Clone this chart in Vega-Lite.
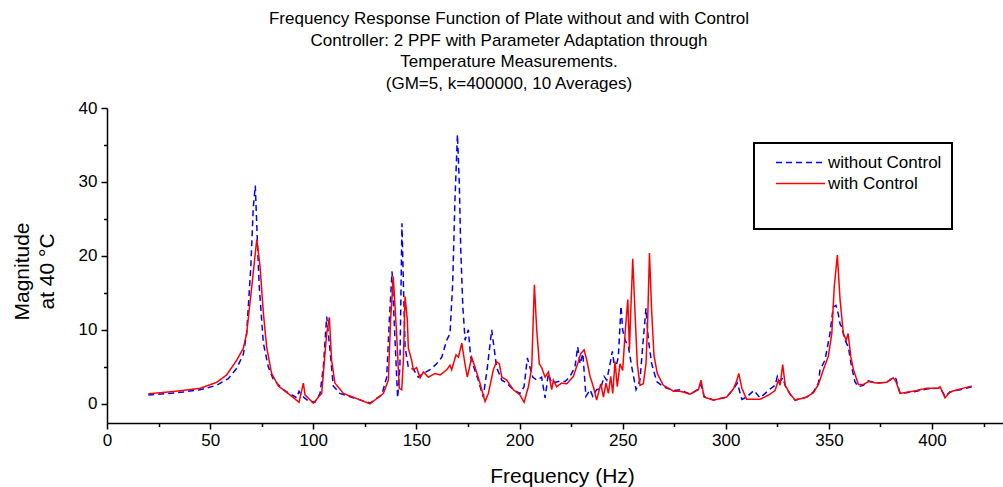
{
  "$schema": "https://vega.github.io/schema/vega-lite/v6.json",
  "width": 896,
  "height": 315,
  "autosize": {"type": "none"},
  "padding": {"left": 107, "top": 108, "right": 0, "bottom": 64},
  "background": "white",
  "config": {
    "font": "Liberation Sans",
    "view": {"stroke": null},
    "axis": {"grid": false, "domainColor": "black", "domainWidth": 1.5, "tickColor": "black", "tickWidth": 1.5, "labelColor": "black", "titleColor": "black", "labelFont": "Liberation Sans", "titleFont": "Liberation Sans", "titleFontWeight": "normal", "labelFontSize": 17, "titleFontSize": 21},
    "legend": {
      "orient": "none",
      "legendX": 647,
      "legendY": 35,
      "direction": "vertical",
      "strokeColor": "black",
      "fillColor": "white",
      "padding": 10,
      "symbolType": "M-2.88,0H2.88",
      "symbolSize": 289,
      "symbolStrokeWidth": 1.5,
      "symbolOffset": 27,
      "labelOffset": 18,
      "labelFontSize": 17,
      "labelFont": "Liberation Sans",
      "labelColor": "black",
      "rowPadding": 3,
      "titleOrient": "bottom",
      "titleFont": "Liberation Sans",
      "titleFontSize": 17,
      "titlePadding": 11,
      "titleLimit": 400
    }
  },
  "title": {
    "text": ["Frequency Response Function of Plate without and with Control", "Controller: 2 PPF with Parameter Adaptation through", "Temperature Measurements.", "(GM=5, k=400000, 10 Averages)"],
    "font": "Liberation Sans",
    "fontSize": 17,
    "fontWeight": "normal",
    "color": "black",
    "lineHeight": 21.7,
    "anchor": "middle",
    "baseline": "bottom",
    "dx": -46,
    "dy": 26,
    "offset": 15
  },
  "data": {"values": [
    {"s":"without Control","f":20,"m":1.2},{"s":"without Control","f":30,"m":1.4},{"s":"without Control","f":37,"m":1.6},{"s":"without Control","f":45,"m":1.9},{"s":"without Control","f":53.2,"m":2.5},{"s":"without Control","f":58.8,"m":3.4},{"s":"without Control","f":62.9,"m":4.8},{"s":"without Control","f":66.1,"m":6.7},{"s":"without Control","f":67.7,"m":9.5},{"s":"without Control","f":69.7,"m":18.4},{"s":"without Control","f":70.9,"m":26.5},{"s":"without Control","f":71.9,"m":29.5},{"s":"without Control","f":72.9,"m":22},{"s":"without Control","f":73.8,"m":15.9},{"s":"without Control","f":75.8,"m":8.2},{"s":"without Control","f":78.2,"m":5.0},{"s":"without Control","f":80.6,"m":3.3},{"s":"without Control","f":85.5,"m":1.9},{"s":"without Control","f":92.0,"m":0.8},{"s":"without Control","f":93.1,"m":1.7},{"s":"without Control","f":94.4,"m":1.1},{"s":"without Control","f":97.6,"m":0.4},{"s":"without Control","f":100.8,"m":0.2},{"s":"without Control","f":103.3,"m":1.4},{"s":"without Control","f":104.9,"m":5.0},{"s":"without Control","f":106.5,"m":11.8},{"s":"without Control","f":108.1,"m":7.3},{"s":"without Control","f":109.7,"m":2.4},{"s":"without Control","f":112.9,"m":1.4},{"s":"without Control","f":119.4,"m":0.8},{"s":"without Control","f":127.5,"m":0.1},{"s":"without Control","f":133.2,"m":1.2},{"s":"without Control","f":135.6,"m":3.6},{"s":"without Control","f":136.9,"m":11.4},{"s":"without Control","f":138.2,"m":17.9},{"s":"without Control","f":139.5,"m":9.5},{"s":"without Control","f":140.9,"m":0.8},{"s":"without Control","f":142.0,"m":4.9},{"s":"without Control","f":143.0,"m":24.4},{"s":"without Control","f":143.7,"m":16.3},{"s":"without Control","f":144.5,"m":7.7},{"s":"without Control","f":146.1,"m":4.9},{"s":"without Control","f":148.5,"m":4.7},{"s":"without Control","f":150.9,"m":3.6},{"s":"without Control","f":153.4,"m":4.1},{"s":"without Control","f":156.6,"m":4.6},{"s":"without Control","f":159.8,"m":5.4},{"s":"without Control","f":162.3,"m":6.3},{"s":"without Control","f":164.7,"m":8.6},{"s":"without Control","f":166.3,"m":9.5},{"s":"without Control","f":167.6,"m":16.3},{"s":"without Control","f":168.7,"m":27.6},{"s":"without Control","f":169.9,"m":36.4},{"s":"without Control","f":170.8,"m":29.9},{"s":"without Control","f":171.5,"m":20.9},{"s":"without Control","f":172.5,"m":13.2},{"s":"without Control","f":173.6,"m":8.6},{"s":"without Control","f":175.2,"m":10.0},{"s":"without Control","f":176.3,"m":6.3},{"s":"without Control","f":177.9,"m":4.9},{"s":"without Control","f":180.0,"m":3.2},{"s":"without Control","f":182.4,"m":0.9},{"s":"without Control","f":184.4,"m":4.9},{"s":"without Control","f":186.5,"m":10.0},{"s":"without Control","f":187.6,"m":7.7},{"s":"without Control","f":188.9,"m":4.9},{"s":"without Control","f":191.4,"m":3.2},{"s":"without Control","f":193.8,"m":2.8},{"s":"without Control","f":197.0,"m":1.9},{"s":"without Control","f":200.2,"m":1.4},{"s":"without Control","f":202.2,"m":2.3},{"s":"without Control","f":203.8,"m":6.2},{"s":"without Control","f":205.1,"m":4.9},{"s":"without Control","f":206.4,"m":3.6},{"s":"without Control","f":208.3,"m":3.2},{"s":"without Control","f":210.7,"m":3.6},{"s":"without Control","f":212.4,"m":0.8},{"s":"without Control","f":214.0,"m":4.1},{"s":"without Control","f":215.6,"m":2.8},{"s":"without Control","f":218.8,"m":3.0},{"s":"without Control","f":222.1,"m":3.0},{"s":"without Control","f":224.5,"m":3.7},{"s":"without Control","f":226.9,"m":5.0},{"s":"without Control","f":228.2,"m":7.7},{"s":"without Control","f":229.4,"m":5.4},{"s":"without Control","f":230.7,"m":6.8},{"s":"without Control","f":232.2,"m":1.0},{"s":"without Control","f":234.2,"m":1.9},{"s":"without Control","f":235.5,"m":1.0},{"s":"without Control","f":237.4,"m":1.9},{"s":"without Control","f":239.4,"m":2.1},{"s":"without Control","f":241.0,"m":3.7},{"s":"without Control","f":242.3,"m":3.2},{"s":"without Control","f":243.9,"m":5.4},{"s":"without Control","f":245.0,"m":7.1},{"s":"without Control","f":246.3,"m":4.5},{"s":"without Control","f":247.9,"m":6.3},{"s":"without Control","f":249.2,"m":13.2},{"s":"without Control","f":250.0,"m":10.0},{"s":"without Control","f":251.2,"m":8.6},{"s":"without Control","f":252.8,"m":7.7},{"s":"without Control","f":254.4,"m":5.0},{"s":"without Control","f":256.5,"m":1.9},{"s":"without Control","f":258.4,"m":3.2},{"s":"without Control","f":259.7,"m":7.7},{"s":"without Control","f":261.3,"m":12.9},{"s":"without Control","f":262.5,"m":8.6},{"s":"without Control","f":264.1,"m":5.4},{"s":"without Control","f":266.5,"m":3.0},{"s":"without Control","f":269.7,"m":2.3},{"s":"without Control","f":274.6,"m":1.8},{"s":"without Control","f":277.8,"m":1.9},{"s":"without Control","f":282.7,"m":1.3},{"s":"without Control","f":286.7,"m":2.0},{"s":"without Control","f":288.0,"m":2.6},{"s":"without Control","f":289.5,"m":1.0},{"s":"without Control","f":294.0,"m":0.5},{"s":"without Control","f":300.4,"m":0.9},{"s":"without Control","f":303.7,"m":2.0},{"s":"without Control","f":305.6,"m":2.8},{"s":"without Control","f":307.8,"m":0.6},{"s":"without Control","f":310.1,"m":0.9},{"s":"without Control","f":313.6,"m":1.8},{"s":"without Control","f":316.6,"m":0.8},{"s":"without Control","f":321.5,"m":2.0},{"s":"without Control","f":323.9,"m":2.5},{"s":"without Control","f":325.0,"m":3.7},{"s":"without Control","f":326.3,"m":3.0},{"s":"without Control","f":327.6,"m":3.5},{"s":"without Control","f":329.0,"m":2.3},{"s":"without Control","f":331.2,"m":1.3},{"s":"without Control","f":333.6,"m":0.5},{"s":"without Control","f":339.2,"m":0.9},{"s":"without Control","f":342.5,"m":1.6},{"s":"without Control","f":344.9,"m":2.8},{"s":"without Control","f":345.7,"m":4.6},{"s":"without Control","f":348.1,"m":5.9},{"s":"without Control","f":350.5,"m":9.5},{"s":"without Control","f":352.1,"m":13.1},{"s":"without Control","f":353.4,"m":13.3},{"s":"without Control","f":354.5,"m":12.2},{"s":"without Control","f":355.4,"m":10.8},{"s":"without Control","f":356.2,"m":10.4},{"s":"without Control","f":357.8,"m":8.6},{"s":"without Control","f":359.4,"m":7.7},{"s":"without Control","f":361.0,"m":5.0},{"s":"without Control","f":362.6,"m":3.0},{"s":"without Control","f":364.2,"m":2.3},{"s":"without Control","f":366.7,"m":2.5},{"s":"without Control","f":369.1,"m":3.1},{"s":"without Control","f":373.2,"m":2.8},{"s":"without Control","f":378.0,"m":2.9},{"s":"without Control","f":381.2,"m":3.6},{"s":"without Control","f":382.5,"m":3.4},{"s":"without Control","f":384.5,"m":1.4},{"s":"without Control","f":390.9,"m":1.6},{"s":"without Control","f":397.4,"m":2.0},{"s":"without Control","f":403.1,"m":2.1},{"s":"without Control","f":403.9,"m":2.2},{"s":"without Control","f":406.3,"m":1.0},{"s":"without Control","f":408.7,"m":1.6},{"s":"without Control","f":413.6,"m":1.9},{"s":"without Control","f":419.2,"m":2.3},
    {"s":"with Control","f":20,"m":1.35},{"s":"with Control","f":30,"m":1.6},{"s":"with Control","f":37,"m":1.8},{"s":"with Control","f":45.1,"m":2.1},{"s":"with Control","f":53.2,"m":2.9},{"s":"with Control","f":58.0,"m":3.9},{"s":"with Control","f":62.9,"m":5.9},{"s":"with Control","f":66.1,"m":7.5},{"s":"with Control","f":67.7,"m":9.5},{"s":"with Control","f":70.2,"m":15.9},{"s":"with Control","f":72.6,"m":22.2},{"s":"with Control","f":74.2,"m":18.6},{"s":"with Control","f":75.8,"m":12.3},{"s":"with Control","f":77.4,"m":7.7},{"s":"with Control","f":79.8,"m":4.1},{"s":"with Control","f":83.1,"m":2.4},{"s":"with Control","f":88.7,"m":1.2},{"s":"with Control","f":93.1,"m":0.2},{"s":"with Control","f":95.2,"m":2.8},{"s":"with Control","f":96.0,"m":1.2},{"s":"with Control","f":100.0,"m":0.1},{"s":"with Control","f":104.1,"m":1.4},{"s":"with Control","f":106.5,"m":9.5},{"s":"with Control","f":107.8,"m":11.7},{"s":"with Control","f":108.9,"m":5.9},{"s":"with Control","f":110.5,"m":2.8},{"s":"with Control","f":114.6,"m":1.4},{"s":"with Control","f":120.2,"m":0.8},{"s":"with Control","f":127.5,"m":0.0},{"s":"with Control","f":134.0,"m":1.4},{"s":"with Control","f":136.4,"m":3.2},{"s":"with Control","f":137.5,"m":11.4},{"s":"with Control","f":138.8,"m":17.2},{"s":"with Control","f":140.4,"m":9.5},{"s":"with Control","f":141.7,"m":2.1},{"s":"with Control","f":142.9,"m":1.9},{"s":"with Control","f":143.7,"m":5.9},{"s":"with Control","f":144.5,"m":14.5},{"s":"with Control","f":145.6,"m":11.4},{"s":"with Control","f":146.1,"m":7.5},{"s":"with Control","f":147.7,"m":5.9},{"s":"with Control","f":148.5,"m":4.6},{"s":"with Control","f":150.1,"m":4.9},{"s":"with Control","f":151.8,"m":3.5},{"s":"with Control","f":153.4,"m":4.3},{"s":"with Control","f":155.8,"m":3.6},{"s":"with Control","f":159.0,"m":4.1},{"s":"with Control","f":161.5,"m":3.9},{"s":"with Control","f":164.7,"m":4.6},{"s":"with Control","f":166.3,"m":5.2},{"s":"with Control","f":167.1,"m":4.6},{"s":"with Control","f":169.2,"m":6.6},{"s":"with Control","f":170.4,"m":6.3},{"s":"with Control","f":172.0,"m":8.2},{"s":"with Control","f":173.6,"m":5.3},{"s":"with Control","f":174.7,"m":3.6},{"s":"with Control","f":176.8,"m":6.3},{"s":"with Control","f":178.5,"m":4.9},{"s":"with Control","f":180.8,"m":2.8},{"s":"with Control","f":183.3,"m":0.3},{"s":"with Control","f":184.9,"m":1.4},{"s":"with Control","f":187.3,"m":4.6},{"s":"with Control","f":188.9,"m":5.7},{"s":"with Control","f":190.2,"m":5.4},{"s":"with Control","f":191.4,"m":3.6},{"s":"with Control","f":193.8,"m":3.2},{"s":"with Control","f":197.0,"m":1.9},{"s":"with Control","f":200.2,"m":1.2},{"s":"with Control","f":202.2,"m":0.2},{"s":"with Control","f":204.3,"m":2.3},{"s":"with Control","f":205.9,"m":4.9},{"s":"with Control","f":207.2,"m":16.1},{"s":"with Control","f":208.3,"m":10.2},{"s":"with Control","f":209.6,"m":5.4},{"s":"with Control","f":210.7,"m":4.9},{"s":"with Control","f":212.4,"m":3.6},{"s":"with Control","f":214.0,"m":4.3},{"s":"with Control","f":215.6,"m":1.9},{"s":"with Control","f":216.4,"m":3.2},{"s":"with Control","f":218.0,"m":2.3},{"s":"with Control","f":220.4,"m":2.8},{"s":"with Control","f":222.9,"m":2.7},{"s":"with Control","f":226.1,"m":3.7},{"s":"with Control","f":228.5,"m":5.7},{"s":"with Control","f":229.7,"m":6.8},{"s":"with Control","f":231.3,"m":7.3},{"s":"with Control","f":232.6,"m":5.9},{"s":"with Control","f":234.2,"m":3.7},{"s":"with Control","f":235.8,"m":2.3},{"s":"with Control","f":237.4,"m":0.5},{"s":"with Control","f":239.4,"m":2.7},{"s":"with Control","f":240.7,"m":0.9},{"s":"with Control","f":241.9,"m":2.8},{"s":"with Control","f":243.1,"m":1.4},{"s":"with Control","f":244.2,"m":3.7},{"s":"with Control","f":245.2,"m":1.4},{"s":"with Control","f":246.3,"m":5.7},{"s":"with Control","f":247.4,"m":2.3},{"s":"with Control","f":248.7,"m":5.4},{"s":"with Control","f":250.0,"m":4.5},{"s":"with Control","f":251.3,"m":10.0},{"s":"with Control","f":252.5,"m":14.1},{"s":"with Control","f":253.3,"m":7.3},{"s":"with Control","f":253.9,"m":12.3},{"s":"with Control","f":254.9,"m":19.6},{"s":"with Control","f":256.0,"m":12.3},{"s":"with Control","f":257.1,"m":5.4},{"s":"with Control","f":258.4,"m":2.5},{"s":"with Control","f":260.0,"m":2.7},{"s":"with Control","f":261.3,"m":5.4},{"s":"with Control","f":262.0,"m":10.0},{"s":"with Control","f":263.0,"m":20.4},{"s":"with Control","f":264.1,"m":12.3},{"s":"with Control","f":265.2,"m":6.5},{"s":"with Control","f":266.8,"m":4.1},{"s":"with Control","f":269.7,"m":2.5},{"s":"with Control","f":274.6,"m":1.7},{"s":"with Control","f":277.8,"m":1.7},{"s":"with Control","f":282.7,"m":1.3},{"s":"with Control","f":286.7,"m":1.9},{"s":"with Control","f":288.0,"m":3.2},{"s":"with Control","f":289.5,"m":0.9},{"s":"with Control","f":294.0,"m":0.5},{"s":"with Control","f":300.4,"m":0.9},{"s":"with Control","f":303.7,"m":2.0},{"s":"with Control","f":305.3,"m":3.1},{"s":"with Control","f":306.3,"m":4.1},{"s":"with Control","f":307.8,"m":2.1},{"s":"with Control","f":310.1,"m":0.6},{"s":"with Control","f":316.6,"m":0.6},{"s":"with Control","f":321.5,"m":1.3},{"s":"with Control","f":323.9,"m":1.8},{"s":"with Control","f":325.5,"m":3.2},{"s":"with Control","f":326.3,"m":2.5},{"s":"with Control","f":327.6,"m":5.3},{"s":"with Control","f":328.8,"m":2.5},{"s":"with Control","f":331.2,"m":1.3},{"s":"with Control","f":333.6,"m":0.5},{"s":"with Control","f":339.2,"m":0.9},{"s":"with Control","f":342.5,"m":1.5},{"s":"with Control","f":344.9,"m":2.6},{"s":"with Control","f":347.3,"m":4.6},{"s":"with Control","f":349.7,"m":6.4},{"s":"with Control","f":351.4,"m":9.5},{"s":"with Control","f":352.6,"m":15.9},{"s":"with Control","f":354.1,"m":20.1},{"s":"with Control","f":355.4,"m":14.1},{"s":"with Control","f":357.0,"m":9.5},{"s":"with Control","f":358.4,"m":8.6},{"s":"with Control","f":359.3,"m":9.5},{"s":"with Control","f":360.6,"m":6.4},{"s":"with Control","f":361.9,"m":4.6},{"s":"with Control","f":364.3,"m":2.6},{"s":"with Control","f":366.7,"m":2.6},{"s":"with Control","f":369.1,"m":3.0},{"s":"with Control","f":373.2,"m":2.8},{"s":"with Control","f":378.0,"m":2.9},{"s":"with Control","f":381.2,"m":3.5},{"s":"with Control","f":382.5,"m":3.0},{"s":"with Control","f":384.5,"m":1.4},{"s":"with Control","f":390.9,"m":1.7},{"s":"with Control","f":397.4,"m":2.1},{"s":"with Control","f":403.1,"m":2.1},{"s":"with Control","f":403.9,"m":2.3},{"s":"with Control","f":406.3,"m":0.8},{"s":"with Control","f":408.7,"m":1.6},{"s":"with Control","f":413.6,"m":2.0},{"s":"with Control","f":419.2,"m":2.4}
  ]},
  "mark": {"type": "line", "strokeWidth": 1.5, "clip": true},
  "encoding": {
    "x": {
      "field": "f", "type": "quantitative",
      "scale": {"domain": [0, 434.4], "nice": false, "zero": false},
      "axis": {
        "title": "Frequency (Hz)",
        "values": [0,25,50,75,100,125,150,175,200,225,250,275,300,325,350,375,400,425],
        "labelExpr": "datum.value % 50 === 0 ? datum.label : ''",
        "tickSize": {"condition": {"test": "datum.value % 50 === 0", "value": 6}, "value": 3.5},
        "labelPadding": 3,
        "labelFlush": false,
        "labelOverlap": false,
        "titleX": 455,
        "titleY": 59,
        "titleBaseline": "alphabetic",
        "titleAlign": "center"
      }
    },
    "y": {
      "field": "m", "type": "quantitative",
      "scale": {"domain": [-2.6, 40], "nice": false, "zero": false},
      "axis": {
        "title": ["Magnitude", "at 40 \u00b0C"],
        "values": [0,5,10,15,20,25,30,35,40],
        "labelExpr": "datum.value % 10 === 0 ? datum.label : ''",
        "tickSize": {"condition": {"test": "datum.value % 10 === 0", "value": 6}, "value": 3.5},
        "labelPadding": 4,
        "labelFlush": false,
        "labelOverlap": false,
        "titleAngle": -90,
        "titleX": -78.5,
        "titleY": 163,
        "titleAlign": "center",
        "titleBaseline": "alphabetic",
        "titleLineHeight": 24.5
      }
    },
    "color": {
      "field": "s", "type": "nominal",
      "scale": {"domain": ["without Control", "with Control"], "range": ["#0000ff", "#ff0000"]},
      "legend": {
        "title": "\u00a0\u00a0\u00a0\u00a0\u00a0\u00a0\u00a0\u00a0\u00a0\u00a0\u00a0\u00a0\u00a0\u00a0\u00a0\u00a0\u00a0\u00a0\u00a0\u00a0\u00a0\u00a0\u00a0\u00a0\u00a0\u00a0\u00a0\u00a0\u00a0\u00a0\u00a0\u00a0\u00a0\u00a0\u00a0\u00a0\u00a0\u00a0\u00a0\u00a0\u00a0\u00a0\u00a0\u00a0\u00a0\u00a0",
        "titleLimit": 400,
        "encode": {"legend": {"update": {"strokeWidth": {"value": 2}}}}
      }
    },
    "strokeDash": {
      "field": "s", "type": "nominal",
      "scale": {"domain": ["without Control", "with Control"], "range": [[6, 4], [1, 0]]},
      "legend": {
        "title": "\u00a0\u00a0\u00a0\u00a0\u00a0\u00a0\u00a0\u00a0\u00a0\u00a0\u00a0\u00a0\u00a0\u00a0\u00a0\u00a0\u00a0\u00a0\u00a0\u00a0\u00a0\u00a0\u00a0\u00a0\u00a0\u00a0\u00a0\u00a0\u00a0\u00a0\u00a0\u00a0\u00a0\u00a0\u00a0\u00a0\u00a0\u00a0\u00a0\u00a0\u00a0\u00a0\u00a0\u00a0\u00a0\u00a0",
        "titleLimit": 400,
        "encode": {"legend": {"update": {"strokeWidth": {"value": 2}}}}
      }
    }
  }
}
